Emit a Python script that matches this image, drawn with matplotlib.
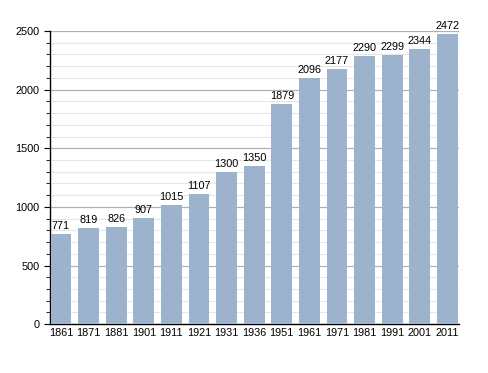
import numpy as np
import matplotlib
matplotlib.use("Agg")
import matplotlib.pyplot as plt
from matplotlib.ticker import MultipleLocator

plt.rcParams['font.family'] = ['Liberation Sans', 'DejaVu Sans']

years = ["1861", "1871", "1881", "1901", "1911", "1921", "1931", "1936",
         "1951", "1961", "1971", "1981", "1991", "2001", "2011"]
population = [771, 819, 826, 907, 1015, 1107, 1300, 1350,
              1879, 2096, 2177, 2290, 2299, 2344, 2472]

fig = plt.figure(figsize=(4.88, 3.73), dpi=100)
ax = fig.add_axes([0.1025, 0.131, 0.838, 0.786])

x = np.arange(len(years))
ax.bar(x, population, width=0.75, color="#9db3cd", zorder=3)

# values above the bars
for xi, v in zip(x, population):
    ax.text(xi, v + 25, str(v), ha="center", va="bottom", fontsize=7.8, zorder=4)

ax.set_xlim(-0.40, len(years) - 0.58)
ax.set_ylim(0, 2500)
ax.set_xticks(x)
ax.set_xticklabels(years, fontsize=7.8)
ax.yaxis.set_major_locator(MultipleLocator(500))
ax.yaxis.set_minor_locator(MultipleLocator(100))
ax.tick_params(axis="y", labelsize=7.8, length=4, direction="out")
ax.tick_params(axis="y", which="minor", length=3)
ax.tick_params(axis="x", length=0, pad=3)

ax.grid(axis="y", which="major", color="#b0b0b0", linewidth=0.9, zorder=0)
ax.grid(axis="y", which="minor", color="#e6e6e6", linewidth=0.8, zorder=0)

for s in ["top", "right"]:
    ax.spines[s].set_visible(False)
ax.spines["left"].set_linewidth(1)
ax.spines["bottom"].set_linewidth(1)

fig.savefig("out.png", dpi=100)
